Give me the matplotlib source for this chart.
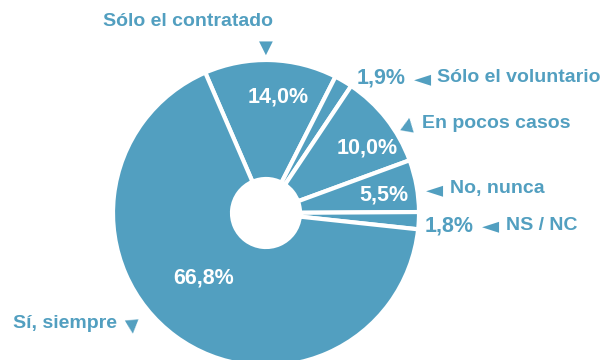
import matplotlib
matplotlib.use("Agg")
import matplotlib.pyplot as plt

# Answers in clockwise order, starting at the top-left edge of the pie
labels = ["Sólo el contratado", "Sólo el voluntario", "En pocos casos",
          "No, nunca", "NS / NC", "Sí, siempre"]
shares = [14.0, 1.9, 10.0, 5.5, 1.8, 66.8]

BLUE = "#529fc0"
W, H = 601, 360
CX, CY, R = 266, 213, 151  # pie centre and radius in pixels (y from top)


def pct(v):
    return f"{v:.1f}".replace(".", ",") + "%"


fig = plt.figure(figsize=(W / 100, H / 100), dpi=100)
ax = fig.add_axes([0, 0, 1, 1])
outer = 1 + 2 / R
ax.pie(shares, startangle=113.4, counterclock=False, colors=[BLUE] * len(shares),
       radius=outer, wedgeprops=dict(edgecolor="white", linewidth=3.0,
                                     width=outer - 34 / R))
ax.set_xlim(-CX / R, (W - CX) / R)
ax.set_ylim(-(H - CY) / R, CY / R)
ax.set_aspect("auto")
ax.axis("off")


def put(x, y, s, color=BLUE, size=14, ha="left", family="Liberation Sans", **kw):
    fig.text(x / W, 1 - y / H, s, color=color, fontsize=size, ha=ha, va="center",
             fontweight="bold", family=family, **kw)


TRI = ["DejaVu Sans"]

# values inside the slices
put(278, 97, pct(shares[0]), color="white", size=15.5, ha="center")
put(367, 148, pct(shares[2]), color="white", size=15.5, ha="center")
put(384, 195, pct(shares[3]), color="white", size=15.5, ha="center")
put(204, 278, pct(shares[5]), color="white", size=15.5, ha="center")

# values outside the thin slices
put(381, 78, pct(shares[1]), size=15.5, ha="center")
put(449, 226, pct(shares[4]), size=15.5, ha="center")

# category names with pointer triangles
put(188, 22, labels[0], ha="center")
put(266, 48, "▼", size=13, ha="center", family=TRI)

put(423, 79, "◄", size=16, ha="center", family=TRI)
put(437, 78, labels[1])

put(408, 124, "▲", size=13, ha="center", family=TRI, rotation=-10)
put(422, 123, labels[2])

put(434, 190, "◄", size=16, ha="center", family=TRI)
put(450, 189, labels[3])

put(490, 226, "◄", size=16, ha="center", family=TRI)
put(506, 226, labels[4])

put(13, 323, labels[5])
put(132, 326, "▼", size=13, ha="center", family=TRI, rotation=5)

fig.savefig("out.png", dpi=100)
